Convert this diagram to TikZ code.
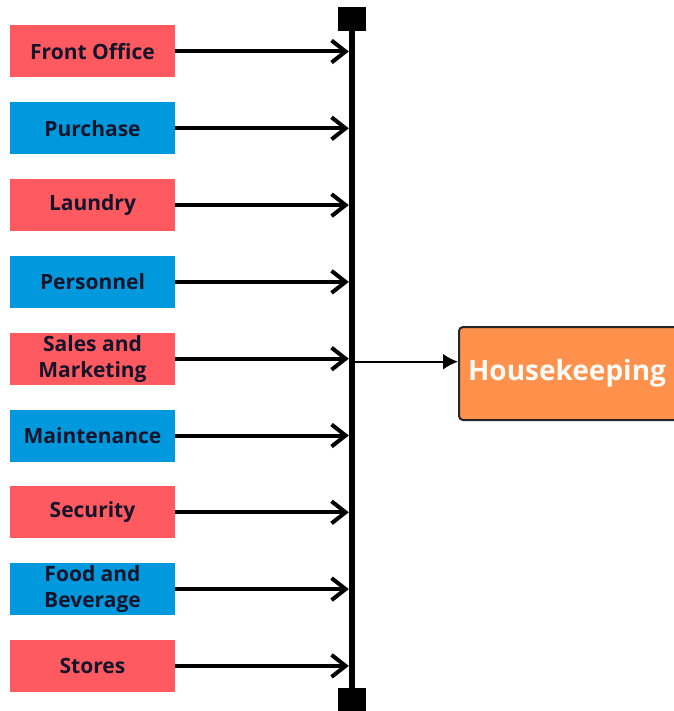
\documentclass[tikz,border=0pt]{standalone}
\usepackage{fontspec}
\setmainfont{Open Sans}
\usetikzlibrary{positioning,arrows.meta}

\definecolor{deptred}{HTML}{FF5A5F}
\definecolor{deptblue}{HTML}{0099DD}
\definecolor{hkorange}{HTML}{FF914D}
\definecolor{deptink}{HTML}{14142B}

\tikzset{
  dept/.style={minimum width=165pt, minimum height=52pt, inner sep=0pt,
    align=center, text=deptink, font=\fontsize{21}{26}\selectfont\bfseries},
  endblock/.style={fill=black, minimum width=28pt, minimum height=24pt, inner sep=0pt},
  feed/.style={line width=4pt, -{Straight Barb[length=14pt,width=22pt,line width=4pt]}},
  hk/.style={fill=hkorange, draw=black!85, line width=2pt, rounded corners=4pt,
    minimum height=93pt, text width=212pt, inner xsep=9pt, align=left,
    text=white!97!orange, font=\fontsize{28}{32}\selectfont\bfseries}
}

\begin{document}
\begin{tikzpicture}[x=1pt,y=-1pt]
    \useasboundingbox (0,0) rectangle (673,711);

    % Departments, top to bottom
    \foreach \name/\label/\col [count=\i from 0] in {
        front/Front Office/deptred,
        purchase/Purchase/deptblue,
        laundry/Laundry/deptred,
        personnel/Personnel/deptblue,
        sales/Sales and\\Marketing/deptred,
        maint/Maintenance/deptblue,
        security/Security/deptred,
        food/Food and\\Beverage/deptblue,
        stores/Stores/deptred}
        \node[dept, fill=\col] (\name) at (92.5, 51.5+76.8*\i) {\label};

    % Collecting bar with its end blocks
    \node[fill=black, minimum width=6pt, minimum height=680pt, inner sep=0pt] (bar) at (352,360) {};
    \node[endblock] (topend) at (352,19) {};
    \node[endblock] (botend) at (352,700) {};

    % Arrows into the bar
    \foreach \name in {front,purchase,laundry,personnel,sales,maint,security,food,stores}
        \draw[feed] (\name.east) -- (\name.east -| bar.west);

    % Housekeeping
    \node[hk, anchor=west] (hk) at (458,373.5) {Housekeeping};
    \draw[line width=2pt, -{Latex[length=15pt,width=16pt]}] ([yshift=-3pt]sales.east -| bar.east) -- ([yshift=-3pt]hk.west |- sales.east);
\end{tikzpicture}
\end{document}
